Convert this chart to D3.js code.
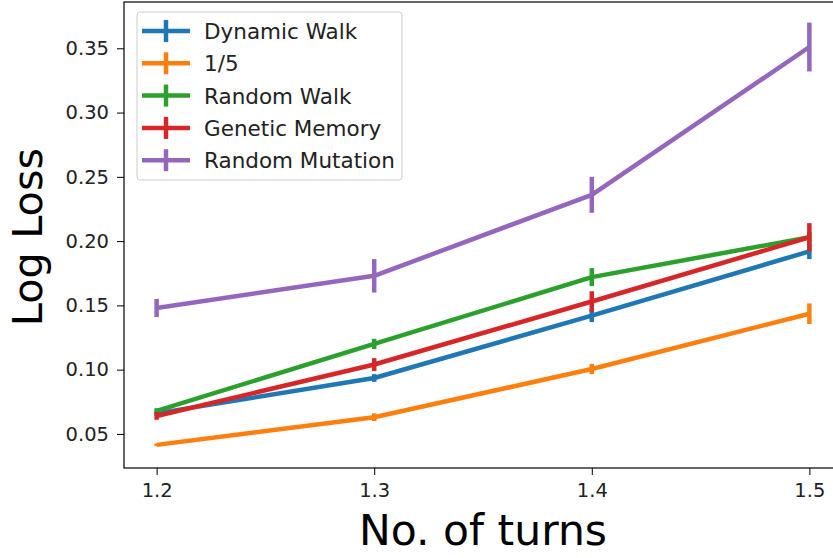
<!DOCTYPE html>
<html>
<head>
<meta charset="utf-8">
<script src="https://cdn.jsdelivr.net/npm/d3@7"></script>
<style>
  body { margin: 0; background: #fff; }
  text { font-family: "DejaVu Sans", sans-serif; }
</style>
</head>
<body>
<div id="chart"></div>
<script>
var turns = [1.2, 1.3, 1.4, 1.5];
var seriesNames = ["Dynamic Walk", "1/5", "Random Walk", "Genetic Memory", "Random Mutation"];
var colors = ["#1f77b4", "#ff7f0e", "#2ca02c", "#d62728", "#9467bd"];

var dynamicWalk = [0.066, 0.0935, 0.142, 0.192];
var dynamicWalkErr = [0.002, 0.003, 0.005, 0.006];
var oneFifth = [0.0415, 0.063, 0.1005, 0.1435];
var oneFifthErr = [0.001, 0.003, 0.004, 0.008];
var randomWalk = [0.068, 0.120, 0.172, 0.203];
var randomWalkErr = [0.002, 0.004, 0.007, 0.004];
var geneticMemory = [0.064, 0.104, 0.153, 0.203];
var geneticMemoryErr = [0.003, 0.005, 0.008, 0.011];
var randomMutation = [0.148, 0.173, 0.236, 0.351];
var randomMutationErr = [0.007, 0.013, 0.014, 0.019];

var yTicks = [0.05, 0.10, 0.15, 0.20, 0.25, 0.30, 0.35];

var allValues = [dynamicWalk, oneFifth, randomWalk, geneticMemory, randomMutation];
var allErrs = [dynamicWalkErr, oneFifthErr, randomWalkErr, geneticMemoryErr, randomMutationErr];

var width = 833, height = 558;
var margin = {top: 2, left: 124, bottom: 90};
var plotW = 718, plotH = height - margin.top - margin.bottom;

var svg = d3.select("#chart").append("svg")
    .attr("width", width)
    .attr("height", height);

var x = d3.scaleLinear().domain([1.185, 1.515]).range([0, plotW]);
var y = d3.scaleLinear().domain([0.0235, 0.386]).range([plotH, 0]);

var g = svg.append("g")
    .attr("transform", "translate(" + margin.left + "," + margin.top + ")");

// axes
var xAxis = g.append("g")
    .attr("transform", "translate(0," + plotH + ")")
    .call(d3.axisBottom(x).tickValues(turns).tickFormat(d3.format(".1f")).tickSizeOuter(0).tickSize(7).tickPadding(8));
var yAxis = g.append("g")
    .call(d3.axisLeft(y).tickValues(yTicks).tickFormat(d3.format(".2f")).tickSizeOuter(0).tickSize(7).tickPadding(8));
[xAxis, yAxis].forEach(function(a) {
  a.select(".domain").remove();
  a.selectAll(".tick line").attr("stroke", "#000").attr("stroke-width", 1);
  a.selectAll(".tick text").attr("fill", "#222").style("font-size", "19.5px").style("font-family", "DejaVu Sans, sans-serif");
});

// frame
g.append("rect")
    .attr("x", 0).attr("y", 0)
    .attr("width", plotW).attr("height", plotH)
    .attr("fill", "none").attr("stroke", "#000").attr("stroke-width", 1.2);

// lines with error bars
var line = d3.line()
    .x(function(d, i) { return x(turns[i]); })
    .y(function(d) { return y(d); });

allValues.forEach(function(vals, s) {
  var errs = allErrs[s];
  var sg = g.append("g");
  sg.append("path")
      .datum(vals)
      .attr("d", line)
      .attr("fill", "none")
      .attr("stroke", colors[s])
      .attr("stroke-width", 4.5)
      .attr("stroke-linejoin", "round");
  sg.selectAll("line.err")
      .data(vals)
      .enter().append("line")
      .attr("x1", function(d, i) { return x(turns[i]); })
      .attr("x2", function(d, i) { return x(turns[i]); })
      .attr("y1", function(d, i) { return y(d - errs[i]); })
      .attr("y2", function(d, i) { return y(d + errs[i]); })
      .attr("stroke", colors[s])
      .attr("stroke-width", 4.5);
});

// legend
var legend = svg.append("g").attr("transform", "translate(137,12)");
legend.append("rect")
    .attr("width", 265).attr("height", 168)
    .attr("rx", 3)
    .attr("fill", "#fff").attr("fill-opacity", 0.8)
    .attr("stroke", "#ccc").attr("stroke-width", 1);
seriesNames.forEach(function(name, i) {
  var ly = 19 + i * 32.3;
  legend.append("line")
      .attr("x1", 5).attr("x2", 53).attr("y1", ly).attr("y2", ly)
      .attr("stroke", colors[i]).attr("stroke-width", 4.5);
  legend.append("line")
      .attr("x1", 29).attr("x2", 29).attr("y1", ly - 11).attr("y2", ly + 11)
      .attr("stroke", colors[i]).attr("stroke-width", 4.5);
  legend.append("text")
      .attr("x", 67).attr("y", ly + 8)
      .attr("fill", "#222")
      .style("font-size", "21.5px")
      .text(name);
});

// axis labels
svg.append("text")
    .attr("x", 483).attr("y", 545)
    .attr("text-anchor", "middle")
    .style("font-size", "42.5px")
    .text("No. of turns");
svg.append("text")
    .attr("transform", "translate(42,237) rotate(-90)")
    .attr("text-anchor", "middle")
    .style("font-size", "41.5px")
    .text("Log Loss");
</script>
</body>
</html>
